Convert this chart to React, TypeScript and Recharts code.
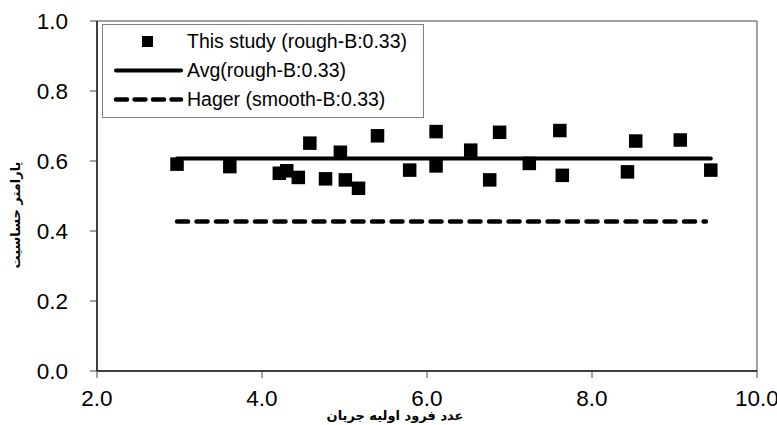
import React from 'react';
import {
  ComposedChart, Scatter, Line, XAxis, YAxis, ReferenceLine,
} from 'recharts';

// Froude number (x) values of "This study" points
const studyX = [2.97, 3.61, 4.21, 4.30, 4.44, 4.58, 4.77, 4.95, 5.01, 5.17, 5.40, 5.79, 6.11, 6.11, 6.53, 6.76, 6.88, 7.24, 7.61, 7.64, 8.43, 8.53, 9.07, 9.44];
// Sensitivity parameter values of "This study" points
const studyY = [0.591, 0.584, 0.565, 0.572, 0.553, 0.651, 0.549, 0.625, 0.546, 0.522, 0.672, 0.574, 0.684, 0.586, 0.631, 0.546, 0.682, 0.593, 0.687, 0.559, 0.569, 0.657, 0.660, 0.574];

const avgX = [2.97, 9.44];
const avgY = [0.607, 0.607];
const hagerX = [2.97, 9.38];
const hagerY = [0.427, 0.427];

const xTicks = [2, 4, 6, 8, 10];
const yTicks = [0, 0.2, 0.4, 0.6, 0.8, 1.0];

const legendLabels = ['This study (rough-B:0.33)', 'Avg(rough-B:0.33)', 'Hager (smooth-B:0.33)'];
const xAxisTitle = 'عدد فرود اولیه جریان';
const yAxisTitle = 'پارامتر حساسیت';

const studyData = studyX.map((x, i) => ({ x, y: studyY[i] }));
const avgData = avgX.map((x, i) => ({ x, y: avgY[i] }));
const hagerData = hagerX.map((x, i) => ({ x, y: hagerY[i] }));

const FONT = '"Liberation Sans", Arial, sans-serif';
const FA_FONT = '"DejaVu Sans", sans-serif';

const SquareShape = (props: any) => {
  const { cx, cy } = props;
  const s = 13.5;
  return <rect x={cx - s / 2} y={cy - s / 2} width={s} height={s} fill="#000" />;
};

const LegendBox = () => (
  <div
    style={{
      position: 'absolute',
      left: 102,
      top: 24,
      width: 322,
      height: 94,
      border: '1.5px solid #808080',
      background: '#fff',
      fontFamily: FONT,
      fontSize: 19.5,
      color: '#000',
      boxSizing: 'border-box',
    }}
  >
    {legendLabels.map((label, i) => (
      <div
        key={label}
        style={{
          position: 'absolute',
          left: 0,
          top: 2 + i * 29,
          height: 29,
          width: 320,
          display: 'flex',
          alignItems: 'center',
        }}
      >
        <svg width={84} height={29} style={{ display: 'block', flex: '0 0 84px' }}>
          {i === 0 && <rect x={39} y={9} width={11} height={11} fill="#000" />}
          {i === 1 && <line x1={13} y1={14.5} x2={78} y2={14.5} stroke="#000" strokeWidth={4} strokeLinecap="round" />}
          {i === 2 && (
            <line x1={13} y1={14.5} x2={78} y2={14.5} stroke="#000" strokeWidth={4.5} strokeLinecap="round" strokeDasharray="11 7.5" />
          )}
        </svg>
        <span style={{ whiteSpace: 'nowrap', lineHeight: '29px' }}>{label}</span>
      </div>
    ))}
  </div>
);

export default function App() {
  return (
    <div style={{ position: 'absolute', left: 0, top: 0, width: 777, height: 425, background: '#fff' }}>
      <ComposedChart
        width={777}
        height={425}
        margin={{ top: 21, right: 20, bottom: 0, left: 0 }}
        style={{ fontFamily: FONT, overflow: 'visible' }}
      >
        <XAxis
          type="number"
          dataKey="x"
          domain={[2, 10]}
          ticks={xTicks}
          tickFormatter={(v: number) => v.toFixed(1)}
          height={54}
          tickSize={7}
          tickMargin={12}
          allowDataOverflow
          stroke="#000"
          tick={{ fill: '#000', fontSize: 22.5, fontFamily: FONT }}
          axisLine={{ stroke: '#000', strokeWidth: 1.5 }}
          tickLine={{ stroke: '#444', strokeWidth: 1 }}
          label={() => (
            <text x={395} y={420} textAnchor="middle" fontFamily={FA_FONT} fontWeight="bold" fontSize={13} fill="#000">
              {xAxisTitle}
            </text>
          )}
        />
        <YAxis
          type="number"
          dataKey="y"
          domain={[0, 1]}
          ticks={yTicks}
          tickFormatter={(v: number) => v.toFixed(1)}
          width={97}
          tickSize={7}
          tickMargin={22}
          allowDataOverflow
          stroke="#000"
          tick={{ fill: '#000', fontSize: 22.5, fontFamily: FONT }}
          axisLine={{ stroke: '#000', strokeWidth: 1.5 }}
          tickLine={{ stroke: '#444', strokeWidth: 1 }}
          label={() => (
            <text
              x={20}
              y={215}
              transform="rotate(-90 20 215)"
              textAnchor="middle"
              fontFamily={FA_FONT}
              fontWeight="bold"
              fontSize={13}
              fill="#000"
            >
              {yAxisTitle}
            </text>
          )}
        />
        <ReferenceLine y={1} stroke="#808080" strokeWidth={1.5} ifOverflow="visible" />
        <ReferenceLine x={10} stroke="#808080" strokeWidth={1.5} ifOverflow="visible" />
        <Line
          data={hagerData}
          dataKey="y"
          stroke="#000"
          strokeWidth={4.5}
          strokeDasharray="11 8.5"
          strokeLinecap="round"
          dot={false}
          activeDot={false}
          isAnimationActive={false}
          legendType="none"
        />
        <Line
          data={avgData}
          dataKey="y"
          stroke="#000"
          strokeWidth={4}
          strokeLinecap="round"
          dot={false}
          activeDot={false}
          isAnimationActive={false}
          legendType="none"
        />
        <Scatter
          data={studyData}
          dataKey="y"
          fill="#000"
          shape={SquareShape}
          isAnimationActive={false}
          legendType="none"
        />
      </ComposedChart>
      <LegendBox />
    </div>
  );
}
